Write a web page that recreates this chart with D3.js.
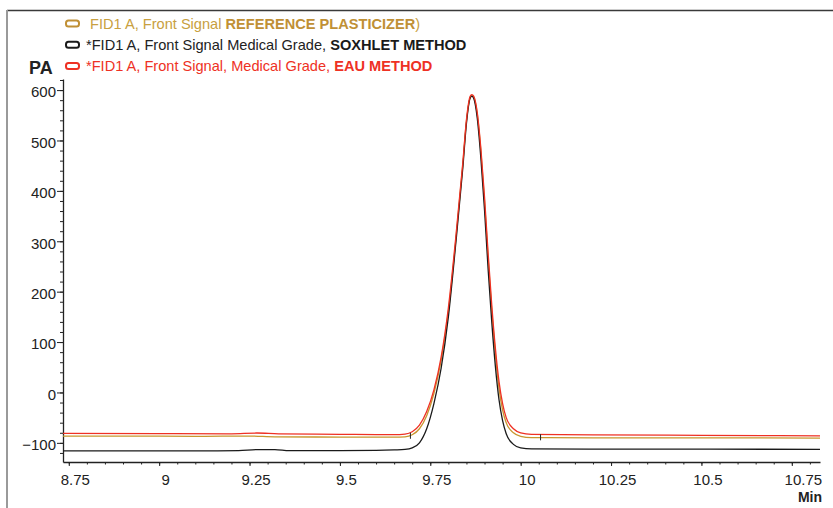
<!DOCTYPE html>
<html>
<head>
<meta charset="utf-8">
<script src="https://cdn.jsdelivr.net/npm/d3@7"></script>
<style>
  body { margin: 0; background: #fff; }
  svg { font-family: "Liberation Sans", Arial, sans-serif; }
</style>
</head>
<body>
<div class="chart"></div>
<script>
var svgWidth = 833;
var svgHeight = 508;

// retention time (min), signal (pA)
var refTrace = [
  [8.734, -86.5], [8.9, -86.5], [9.1, -87], [9.25, -86.5], [9.32, -88], [9.5, -88.5],
  [9.6, -88.5], [9.65, -88.5], [9.68, -88], [9.70, -84], [9.72, -72], [9.74, -46],
  [9.76, -2], [9.78, 64], [9.80, 160], [9.82, 298], [9.84, 452], [9.85, 538],
  [9.86, 584], [9.865, 589], [9.87, 586], [9.88, 552], [9.89, 478], [9.90, 380],
  [9.91, 266], [9.92, 162], [9.93, 76], [9.94, 8], [9.95, -35], [9.96, -60],
  [9.98, -80], [10.00, -87], [10.03, -89.5], [10.2, -90], [10.5, -90], [10.828, -90.5]
];
var soxhletTrace = [
  [8.734, -116], [8.9, -116], [9.1, -116], [9.22, -115.5], [9.27, -113.5], [9.32, -113.5],
  [9.36, -115.5], [9.5, -115.5], [9.6, -115], [9.65, -114], [9.68, -113], [9.70, -110],
  [9.72, -100], [9.74, -72], [9.76, -22], [9.78, 48], [9.80, 150], [9.82, 292],
  [9.84, 446], [9.85, 534], [9.86, 584], [9.865, 588], [9.87, 584], [9.88, 544],
  [9.89, 464], [9.90, 362], [9.91, 244], [9.92, 140], [9.93, 52], [9.94, -14],
  [9.95, -56], [9.96, -82], [9.98, -103], [10.00, -110], [10.03, -112], [10.3, -112.5],
  [10.5, -112.5], [10.828, -113]
];
var eauTrace = [
  [8.734, -81], [9.0, -81.5], [9.2, -82], [9.27, -80.5], [9.33, -82], [9.5, -83],
  [9.6, -83.5], [9.65, -83.5], [9.68, -82.5], [9.70, -78], [9.72, -65], [9.74, -38],
  [9.76, 5], [9.78, 70], [9.80, 168], [9.82, 304], [9.84, 456], [9.85, 541],
  [9.86, 587], [9.865, 591], [9.87, 588], [9.88, 555], [9.89, 483], [9.90, 388],
  [9.91, 276], [9.92, 174], [9.93, 88], [9.94, 22], [9.95, -22], [9.96, -50],
  [9.98, -72], [10.00, -80], [10.03, -83], [10.2, -84], [10.5, -85], [10.828, -86]
];
// integration marks [time, signal]
var marks = [[9.695, -86], [10.055, -89]];

var xTicks = [8.75, 9, 9.25, 9.5, 9.75, 10, 10.25, 10.5, 10.75];
var yTicks = [-100, 0, 100, 200, 300, 400, 500, 600];

var svg = d3.select(".chart").append("svg")
  .attr("width", svgWidth)
  .attr("height", svgHeight);

// frame
svg.append("line").attr("x1", 7).attr("x2", 833).attr("y1", 10.5).attr("y2", 10.5)
  .attr("stroke", "#3a3a3a").attr("stroke-width", 1.6);
svg.append("line").attr("x1", 7).attr("x2", 7).attr("y1", 10).attr("y2", 508)
  .attr("stroke", "#9a9a9a").attr("stroke-width", 2);

var x = d3.scaleLinear().domain([8.734, 10.828]).range([63, 820]);
var y = d3.scaleLinear().domain([-138, 622]).range([462, 79]);

// minor ticks
var xMinor = d3.range(8.75, 10.81, 0.05);
var yMinor = d3.range(-120, 621, 20);

svg.append("g")
  .attr("transform", "translate(0,462)")
  .call(d3.axisBottom(x).tickValues(xMinor).tickSize(2.5).tickFormat(""))
  .call(g => g.select(".domain").remove())
  .selectAll("line").attr("stroke", "#222");

svg.append("g")
  .attr("transform", "translate(63,0)")
  .call(d3.axisLeft(y).tickValues(yMinor).tickSize(3).tickFormat(""))
  .call(g => g.select(".domain").remove())
  .selectAll("line").attr("stroke", "#222");

var xAxis = svg.append("g")
  .attr("transform", "translate(0,462)")
  .call(d3.axisBottom(x).tickValues(xTicks).tickSize(4).tickSizeOuter(0).tickPadding(8)
    .tickFormat(d => d));
xAxis.select(".domain").attr("stroke", "#222").attr("stroke-width", 1.3);
xAxis.selectAll(".tick line").attr("stroke", "#222");
xAxis.selectAll(".tick text")
  .attr("font-size", "15px")
  .attr("fill", "#222")
  .attr("dx", (d, i) => i === xTicks.length - 1 ? 11 : 6)
  .attr("font-family", "'Liberation Sans', Arial, sans-serif");

var yAxis = svg.append("g")
  .attr("transform", "translate(63,0)")
  .call(d3.axisLeft(y).tickValues(yTicks).tickSize(6).tickSizeOuter(0).tickPadding(1));
yAxis.select(".domain").attr("stroke", "#222").attr("stroke-width", 1.3);
yAxis.selectAll(".tick line").attr("stroke", "#222");
yAxis.selectAll(".tick text")
  .attr("font-size", "15px")
  .attr("fill", "#222")
  .attr("dy", "0.45em")
  .attr("font-family", "'Liberation Sans', Arial, sans-serif");

svg.append("text").attr("x", 29).attr("y", 74)
  .attr("font-size", "18px").attr("font-weight", "bold").attr("fill", "#222")
  .text("PA");

svg.append("text").attr("x", 822).attr("y", 502).attr("text-anchor", "end")
  .attr("font-size", "14px").attr("font-weight", "bold").attr("fill", "#222")
  .text("Min");

// traces
var line = d3.line()
  .x(d => x(d[0]))
  .y(d => y(d[1]))
  .curve(d3.curveMonotoneX);

var traces = [
  { data: refTrace, color: "#c8962e" },
  { data: soxhletTrace, color: "#1a1a1a" },
  { data: eauTrace, color: "#ee3124" }
];

svg.selectAll(".trace")
  .data(traces)
  .enter()
  .append("path")
  .attr("class", "trace")
  .attr("d", d => line(d.data))
  .attr("fill", "none")
  .attr("stroke", d => d.color)
  .attr("stroke-width", 1.3);

svg.selectAll(".mark")
  .data(marks)
  .enter()
  .append("line")
  .attr("x1", d => x(d[0])).attr("x2", d => x(d[0]))
  .attr("y1", d => y(d[1]) - 3).attr("y2", d => y(d[1]) + 3)
  .attr("stroke", "#222").attr("stroke-width", 1);

// legend
var legendRows = [
  { pre: " FID1 A, Front Signal ", bold: "REFERENCE PLASTICIZER", post: ")", color: "#c09035", textColor: "#c8a040" },
  { pre: "*FID1 A, Front Signal Medical Grade, ", bold: "SOXHLET METHOD", post: "", color: "#1a1a1a", textColor: "#222" },
  { pre: "*FID1 A, Front Signal, Medical Grade, ", bold: "EAU METHOD", post: "", color: "#ee3124", textColor: "#ee3124" }
];

var legend = svg.selectAll(".legend")
  .data(legendRows)
  .enter()
  .append("g")
  .attr("class", "legend")
  .attr("transform", (d, i) => `translate(0, ${23.5 + i * 21.2})`);

legend.append("rect")
  .attr("x", 66).attr("y", -3)
  .attr("width", 13).attr("height", 6)
  .attr("rx", 2.5)
  .attr("fill", "none")
  .attr("stroke", d => d.color)
  .attr("stroke-width", 2);

var lt = legend.append("text")
  .attr("x", 86).attr("y", 5)
  .attr("font-size", "14.6px")
  .attr("xml:space", "preserve")
  .style("white-space", "pre");
lt.append("tspan").attr("fill", d => d.textColor).text(d => d.pre);
lt.append("tspan").attr("fill", d => d.color).attr("font-weight", "bold").text(d => d.bold);
lt.append("tspan").attr("fill", d => d.textColor).text(d => d.post);
</script>
</body>
</html>
